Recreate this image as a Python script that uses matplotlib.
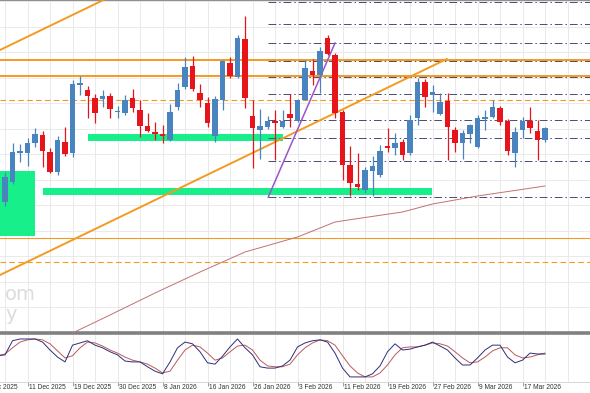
import numpy as np
import pandas as pd
from matplotlib import pyplot as plt
from matplotlib.transforms import blended_transform_factory

# trading days shown (index 0 = 8 Dec 2025)
days = pd.bdate_range("2025-12-03", "2026-03-20")
days = days[~days.isin(pd.to_datetime(["2025-12-25", "2026-01-01"]))]
start = list(days).index(pd.Timestamp("2025-12-08"))

# OHLC (arbitrary price units, no scale visible)
opens = [198, 218, 247, 247, 257, 265, 248, 228, 258, 247, 315, 310, 302, 301, 304, 288, 287, 302, 290, 274,
         268, 266, 260, 293, 313, 334, 307, 297, 264, 300, 337, 323, 361, 284, 270, 273, 279, 273, 286, 279,
         300, 329, 325, 362, 345, 288, 235, 216, 210, 229, 225, 254, 252, 258, 247, 282, 318, 305, 286, 299,
         270, 257, 266, 253, 281, 283, 292, 279, 247, 270, 279, 269, 260]
highs = [228, 257, 256, 262, 272, 269, 252, 264, 273, 320, 324, 314, 306, 310, 307, 294, 305, 311, 300, 287,
         278, 275, 296, 317, 343, 344, 316, 303, 304, 340, 343, 365, 384, 300, 291, 284, 290, 290, 306, 301,
         340, 341, 353, 365, 347, 290, 254, 247, 233, 244, 255, 272, 267, 261, 285, 322, 321, 315, 307, 307,
         273, 270, 276, 285, 290, 300, 294, 281, 273, 283, 293, 280, 273]
lows = [194, 216, 238, 234, 253, 233, 227, 225, 244, 243, 305, 282, 277, 293, 282, 282, 285, 288, 263, 268,
        260, 257, 259, 290, 311, 309, 293, 273, 258, 290, 322, 322, 292, 232, 241, 271, 240, 272, 273, 278,
        300, 315, 307, 345, 282, 220, 204, 210, 207, 204, 223, 248, 245, 240, 245, 275, 293, 288, 285, 240,
        248, 241, 257, 252, 270, 282, 275, 245, 233, 262, 267, 240, 258]
closes = [223, 248, 249, 257, 266, 249, 228, 260, 246, 316, 317, 304, 287, 304, 291, 289, 300, 292, 274, 269,
          266, 264, 288, 310, 333, 311, 300, 277, 301, 339, 324, 362, 302, 272, 274, 279, 277, 279, 282, 300,
          332, 325, 349, 346, 287, 235, 217, 213, 230, 234, 249, 252, 257, 245, 280, 318, 303, 308, 298, 273,
          257, 267, 275, 282, 283, 293, 278, 249, 268, 279, 272, 260, 272]

# moving average (index, value)
ma_idx = [9, 14, 20, 26, 32, 39, 44, 48, 53, 57, 63, 72]
ma_val = [67, 85, 107, 128, 148, 163, 178, 182.5, 188, 196, 204, 214]

# stochastic %K and %D, index -1 .. 72
stoch_k = [55, 57, 89, 93, 93, 93, 86, 68, 52, 41, 79, 84, 89, 79, 73, 64, 57, 43, 41, 41, 30, 20, 14, 41, 73,
           86, 82, 64, 39, 36, 54, 75, 93, 73, 57, 30, 27, 27, 32, 45, 75, 84, 89, 91, 86, 61, 27, 7, 7, 7, 14,
           32, 64, 82, 68, 70, 75, 79, 86, 77, 68, 50, 34, 34, 50, 68, 79, 79, 52, 39, 45, 61, 59, 59]
stoch_d = [55, 59, 73, 86, 91, 93, 91, 82, 66, 50, 55, 73, 86, 84, 77, 68, 61, 52, 45, 41, 36, 27, 16, 20, 45,
           68, 79, 75, 61, 45, 50, 64, 77, 79, 68, 45, 32, 30, 30, 36, 57, 73, 84, 91, 89, 79, 55, 32, 16, 7, 7,
           16, 34, 57, 73, 75, 75, 79, 84, 82, 77, 64, 50, 39, 41, 52, 66, 73, 73, 57, 50, 52, 57, 61]

# drawn levels
orange_levels = [340.5, 324]
orange_dashed = [300, 138]
orange_thin = [162]
fib_levels = [398, 376, 357, 339, 323, 306, 280, 262, 239, 203]
fib_start = 35.1
trend_low = [(-0.67, 125), (58.9, 341)]
trend_high = [(-0.67, 350), (14.5, 405)]
purple_line = [(35.1, 203), (44, 357)]
zones = [(-0.67, 4.0, 164, 229), (11.07, 37.07, 259, 266), (5.07, 56.93, 205, 212)]

label_days = ["3 Dec 2025", "11 Dec 2025", "19 Dec 2025", "30 Dec 2025", "8 Jan 2026", "16 Jan 2026",
              "26 Jan 2026", "3 Feb 2026", "11 Feb 2026", "19 Feb 2026", "27 Feb 2026", "9 Mar 2026",
              "17 Mar 2026"]

UP = "#4a84be"
DOWN = "#e8141c"
ORANGE = "#f39a22"
GREEN = "#17f08a"
NAVY = "#4a4a78"

fig = plt.figure(figsize=(5.9, 3.93), dpi=100)
ax = fig.add_axes([0, 60 / 393, 1, 333 / 393])
ax2 = fig.add_axes([0, 11 / 393, 1, 47 / 393])

xlo, xhi = -0.67, 78
ax.set_xlim(xlo, xhi)
ax.set_ylim(67, 400)
ax2.set_xlim(xlo, xhi)
ax2.set_ylim(-4.5, 102)

grid_x = np.arange(0, 78, 3)
for a in (ax, ax2):
    for g in grid_x:
        a.axvline(g, color="#e6e6e6", lw=0.6, zorder=0)
for g in np.arange(399, 60, -25.5):
    ax.axhline(g, color="#e6e6e6", lw=0.6, zorder=0)

# zones
for x0, x1, y0, y1 in zones:
    ax.fill_between([x0, x1], y0, y1, color=GREEN, lw=0, zorder=1)

# levels
for lv in orange_levels:
    ax.axhline(lv, color=ORANGE, lw=1.4, zorder=2)
for lv in orange_dashed:
    ax.axhline(lv, color=ORANGE, lw=0.8, ls=(0, (5, 3)), zorder=2)
for lv in orange_thin:
    ax.axhline(lv, color=ORANGE, lw=0.8, zorder=2)
for lv in fib_levels:
    ax.plot([fib_start, xhi], [lv, lv], color=NAVY, lw=0.7, ls=(0, (8, 3, 1.5, 3)), zorder=2)

for seg, c, w in [(trend_low, ORANGE, 1.4), (trend_high, ORANGE, 1.4), (purple_line, "#9a55cc", 1.1)]:
    ax.plot([seg[0][0], seg[1][0]], [seg[0][1], seg[1][1]], color=c, lw=w, zorder=3)

ax.plot(ma_idx, ma_val, color="#c47070", lw=0.7, zorder=3)

# candles
idx = np.arange(len(opens))
o = np.array(opens, float)
c = np.array(closes, float)
cols = [UP if cc >= oo else DOWN for oo, cc in zip(o, c)]
ax.vlines(idx, lows, highs, colors=cols, lw=0.9, zorder=4)
body = np.maximum(np.abs(c - o), 1.2)
ax.bar(idx, body, bottom=np.minimum(o, c), width=0.68, color=cols, lw=0, zorder=5)

# watermark
ax.text(0, 105, "om", color="#dcdcdc", fontsize=14, ha="left", va="center", zorder=0.5)
ax.text(0, 85, "y", color="#dcdcdc", fontsize=14, ha="left", va="center", zorder=0.5)

for s in ["left", "right"]:
    ax.spines[s].set_visible(False)
    ax2.spines[s].set_visible(False)
ax.spines["top"].set_color("#909090")
ax.spines["top"].set_linewidth(1.5)
ax.spines["bottom"].set_color("#808080")
ax.spines["bottom"].set_linewidth(2.6)
ax2.spines["top"].set_visible(False)
ax2.spines["bottom"].set_color("#d0d0d0")
ax2.spines["bottom"].set_linewidth(0.6)
ax.set_xticks([])
ax.set_yticks([])
ax2.set_yticks([])

# stochastic
sidx = np.arange(-1, len(stoch_k) - 1)
ax2.plot(sidx, stoch_d, color="#b85a5a", lw=0.7)
ax2.plot(sidx, stoch_k, color="#2e2e78", lw=0.7)

# date labels every 6 trading days
tick_pos = []
for lab in label_days:
    d = pd.Timestamp(pd.to_datetime(lab, format="%d %b %Y"))
    tick_pos.append(list(days).index(d) - start)
ax2.set_xticks([t for t in tick_pos if t >= xlo])
ax2.set_xticklabels([])
ax2.tick_params(axis="x", length=3, width=0.6, color="#909090")
tr = blended_transform_factory(ax2.transData, ax2.transAxes)
for t, lab in zip(tick_pos, label_days):
    ax2.text(t + 0.25, -0.11, lab, transform=tr, ha="left", va="center", fontsize=4.8,
             family=["Liberation Sans", "DejaVu Sans"], color="#333333", clip_on=False)

fig.savefig("out.png", dpi=100)
